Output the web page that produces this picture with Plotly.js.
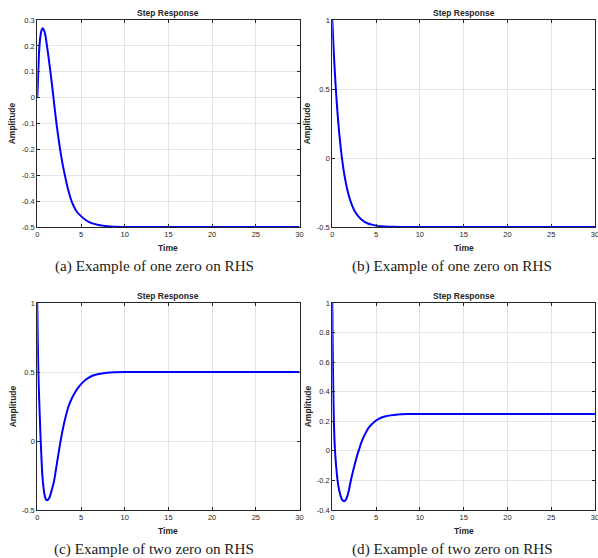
<!DOCTYPE html>
<html>
<head>
<meta charset="utf-8">
<script src="https://cdn.plot.ly/plotly-3.0.1.min.js"></script>
<style>html,body{margin:0;padding:0;background:#fff;overflow:hidden;}#chart{width:606px;height:558px;}</style>
</head>
<body>
<div id="chart"></div>
<script>
// ---- Data ----
const timeA = [0, 0.1, 0.2, 0.3, 0.4, 0.5, 0.62, 0.75, 0.9, 1.0, 1.25, 1.5, 1.75, 2.0, 2.25, 2.5, 2.75, 3.0, 3.25, 3.5, 3.8, 4.1, 4.5, 5, 5.5, 6, 6.5, 7, 8, 9, 10, 15, 20, 25, 30];
const respA = [0, 0.09, 0.175, 0.22, 0.248, 0.262, 0.268, 0.262, 0.245, 0.225, 0.165, 0.10, 0.03, -0.045, -0.115, -0.175, -0.23, -0.275, -0.315, -0.352, -0.388, -0.415, -0.44, -0.458, -0.472, -0.482, -0.488, -0.492, -0.497, -0.499, -0.5, -0.5, -0.5, -0.5, -0.5];

const timeB = [0, 0.1, 0.2, 0.3, 0.4, 0.5, 0.6, 0.8, 1.0, 1.2, 1.4, 1.6, 1.8, 2.0, 2.3, 2.6, 3.0, 3.5, 4, 4.5, 5, 6, 7, 8, 10, 15, 20, 25, 30];
const respB = [1, 0.857, 0.728, 0.611, 0.505, 0.410, 0.323, 0.174, 0.052, -0.048, -0.130, -0.197, -0.252, -0.297, -0.350, -0.389, -0.425, -0.455, -0.473, -0.483, -0.490, -0.496, -0.499, -0.4995, -0.5, -0.5, -0.5, -0.5, -0.5];

const timeC = [0, 0.04, 0.08, 0.12, 0.2, 0.3, 0.39, 0.48, 0.58, 0.7, 0.8, 0.9, 1.0, 1.1, 1.19, 1.35, 1.5, 1.7, 1.9, 2.04, 2.2, 2.4, 2.65, 2.9, 3.2, 3.57, 4.0, 4.4, 4.72, 5.2, 5.8, 6.45, 7.2, 8, 9, 10, 15, 20, 25, 30];
const respC = [1, 0.80, 0.64, 0.50, 0.33, 0.15, 0.0, -0.13, -0.25, -0.33, -0.38, -0.41, -0.423, -0.43, -0.428, -0.415, -0.39, -0.345, -0.295, -0.245, -0.18, -0.10, -0.005, 0.08, 0.165, 0.25, 0.315, 0.36, 0.39, 0.425, 0.455, 0.476, 0.488, 0.495, 0.498, 0.5, 0.5, 0.5, 0.5, 0.5];

const timeD = [0, 0.04, 0.08, 0.12, 0.16, 0.22, 0.31, 0.45, 0.58, 0.7, 0.84, 1.0, 1.15, 1.35, 1.5, 1.7, 1.9, 2.12, 2.4, 2.7, 3.0, 3.4, 3.8, 4.2, 4.6, 5.0, 5.5, 6.0, 6.65, 7.5, 8.5, 10, 15, 20, 25, 30];
const respD = [1, 0.75, 0.55, 0.38, 0.25, 0.12, 0.0, -0.11, -0.19, -0.24, -0.28, -0.315, -0.333, -0.34, -0.335, -0.31, -0.265, -0.2, -0.13, -0.06, 0.0, 0.07, 0.12, 0.16, 0.185, 0.205, 0.222, 0.232, 0.24, 0.246, 0.249, 0.25, 0.25, 0.25, 0.25, 0.25];

const xTickVals = [0, 5, 10, 15, 20, 25, 30];
const xTickText = ['0', '5', '10', '15', '20', '25', '30'];
const yTickValsA = [-0.5, -0.4, -0.3, -0.2, -0.1, 0, 0.1, 0.2, 0.3];
const yTickTextA = ['-0.5', '-0.4', '-0.3', '-0.2', '-0.1', '0', '0.1', '0.2', '0.3'];
const yTickValsBC = [-0.5, 0, 0.5, 1];
const yTickTextBC = ['-0.5', '0', '0.5', '1'];
const yTickValsD = [-0.4, -0.2, 0, 0.2, 0.4, 0.6, 0.8, 1];
const yTickTextD = ['-0.4', '-0.2', '0', '0.2', '0.4', '0.6', '0.8', '1'];

const panelTitle = 'Step Response';
const xLabel = 'Time';
const yLabel = 'Amplitude';
const captions = ['(a) Example of one zero on RHS', '(b) Example of one zero on RHS', '(c) Example of two zero on RHS', '(d) Example of two zero on RHS'];

// ---- Layout helpers ----
const W = 606, H = 558;
const px = x => x / W;
const py = y => 1 - y / H;

const boxes = [
  {l: 37.3, r: 299.5, t: 20, b: 227},
  {l: 332.3, r: 595, t: 20, b: 227},
  {l: 37.3, r: 299.5, t: 303, b: 510},
  {l: 332.3, r: 595, t: 303, b: 510}
];
const yRanges = [[-0.5, 0.3], [-0.5, 1], [-0.5, 1], [-0.4, 1]];
const yTicks = [[yTickValsA, yTickTextA], [yTickValsBC, yTickTextBC], [yTickValsBC, yTickTextBC], [yTickValsD, yTickTextD]];
const series = [[timeA, respA], [timeB, respB], [timeC, respC], [timeD, respD]];

const axisColor = '#262626';
const common = {
  showline: true, mirror: 'ticks', linecolor: axisColor, linewidth: 1,
  ticks: 'inside', ticklen: 3, tickcolor: axisColor, tickwidth: 1,
  showgrid: true, gridcolor: '#e3e3e3', gridwidth: 1, zeroline: false,
  tickfont: {family: 'Liberation Sans, Arial, sans-serif', size: 7.5, color: axisColor},
  fixedrange: true
};

const traces = [];
const layout = {
  width: W, height: H,
  margin: {l: 0, r: 0, t: 0, b: 0},
  paper_bgcolor: '#ffffff', plot_bgcolor: '#ffffff',
  showlegend: false,
  annotations: []
};

const labelFont = {family: 'Liberation Sans, Arial, sans-serif', size: 8.5, color: '#262626'};
const capFont = {family: 'Liberation Serif, Times New Roman, serif', size: 15.2, color: '#1a1a1a'};

boxes.forEach((bx, i) => {
  const n = i + 1;
  const xa = n === 1 ? 'xaxis' : 'xaxis' + n;
  const ya = n === 1 ? 'yaxis' : 'yaxis' + n;
  layout[xa] = Object.assign({}, common, {
    domain: [px(bx.l), px(bx.r)], anchor: 'y' + (n === 1 ? '' : n),
    range: [0, 30], tickvals: xTickVals, ticktext: xTickText
  });
  layout[ya] = Object.assign({}, common, {
    domain: [py(bx.b), py(bx.t)], anchor: 'x' + (n === 1 ? '' : n),
    range: yRanges[i], tickvals: yTicks[i][0], ticktext: yTicks[i][1]
  });
  traces.push({
    x: series[i][0], y: series[i][1],
    xaxis: 'x' + (n === 1 ? '' : n), yaxis: 'y' + (n === 1 ? '' : n),
    type: 'scatter', mode: 'lines',
    line: {color: '#0000ff', width: 2, shape: 'spline', smoothing: 0.7}, hoverinfo: 'skip'
  });
  const cx = (bx.l + bx.r) / 2;
  const cy = (bx.t + bx.b) / 2;
  layout.annotations.push({
    text: '<b>' + panelTitle + '</b>', xref: 'paper', yref: 'paper',
    x: px(cx), y: py(bx.t - 7.3), xanchor: 'center', yanchor: 'middle',
    showarrow: false, font: labelFont
  });
  layout.annotations.push({
    text: '<b>' + xLabel + '</b>', xref: 'paper', yref: 'paper',
    x: px(cx), y: py(bx.b + 21), xanchor: 'center', yanchor: 'middle',
    showarrow: false, font: labelFont
  });
  layout.annotations.push({
    text: '<b>' + yLabel + '</b>', xref: 'paper', yref: 'paper',
    x: px(bx.l - 24.5), y: py(cy), xanchor: 'center', yanchor: 'middle',
    textangle: -90, showarrow: false, font: labelFont
  });
  layout.annotations.push({
    text: captions[i], xref: 'paper', yref: 'paper',
    x: px(i % 2 === 0 ? 154 : 452), y: py(bx.b + 38.5), xanchor: 'center', yanchor: 'middle',
    showarrow: false, font: capFont
  });
});

Plotly.newPlot('chart', traces, layout, {staticPlot: true, displayModeBar: false});
</script>
</body>
</html>
